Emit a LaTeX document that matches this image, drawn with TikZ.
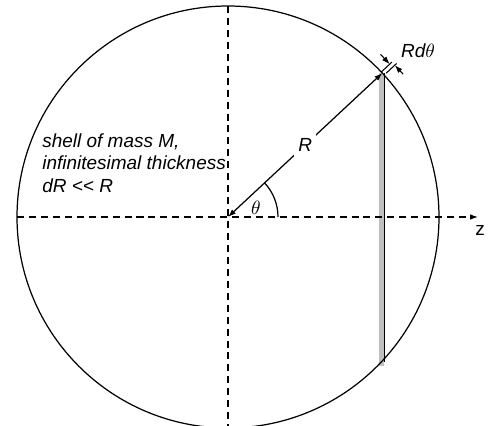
\documentclass[tikz,border=0pt]{standalone}
\usepackage{fontspec}
\setmainfont{Liberation Sans}
\usetikzlibrary{arrows.meta, calc}

\begin{document}
\begin{tikzpicture}[x=0.02cm, y=0.02cm,
    lbl/.style={font=\fontsize{10.8}{12.8}\selectfont\itshape, inner sep=0pt},
    axis/.style={line width=0.7pt, dash pattern=on 4pt off 2.8pt},
    tip/.style={-{Latex[length=4.5pt, width=3.2pt]}},
    dim/.style={line width=0.6pt}]

    \useasboundingbox (0,0) rectangle (491,426);
    \clip (0,0) rectangle (491,426);

    \coordinate (O) at (228,209);
    \coordinate (T) at ($(O)+(43:211)$);
    \coordinate (B) at ($(O)+(-43:211)$);
    \coordinate (W) at ($(O)+(-211,0)$);
    \coordinate (N) at ($(O)+(0,211)$);
    \coordinate (zend) at (478,209);
    \coordinate (S) at (228,0);

    % shell slice seen edge-on
    \fill[gray!50] ($(T)+(-3.3,0)$) rectangle ($(B)+(1.2,-5)$);
    \draw[line width=0.7pt] ($(T)+(2.2,0)$) -- ($(B)+(2.2,-1)$);

    \draw[line width=0.7pt] (O) circle[radius=211];
    \draw[axis, tip] (W) -- (zend);
    \draw[axis] (N) -- (S);
    \node[lbl, font=\fontsize{10.8}{12.8}\selectfont\upshape] (z) at (480,196) {z};

    % radius and angle
    \draw[line width=0.7pt, {Latex[length=4.5pt, width=3.2pt]}-{Latex[length=4.5pt, width=3.2pt]}]
        (O) -- node[lbl, fill=white, inner sep=2.3pt] (Rlbl) {R} (T);
    \draw[line width=0.7pt] ($(O)+(50,0)$) arc[start angle=0, end angle=43, radius=50];
    \node[lbl] (theta) at (256,218) {$\theta$};

    % width R d(theta)
    \begin{scope}[shift={(T)}, rotate=43]
        \coordinate (e1a) at (0,1.5);   \coordinate (e1b) at (14.5,1.5);
        \coordinate (e2a) at (2.8,-2.7); \coordinate (e2b) at (17,-2.7);
        \coordinate (a1) at (11.5,15);  \coordinate (h1) at (11.5,1.5);
        \coordinate (a2) at (14.5,-15); \coordinate (h2) at (14.5,-2.7);
        \draw[dim] (e1a) -- (e1b);
        \draw[dim] (e2a) -- (e2b);
        \draw[dim, tip] (a1) -- (h1);
        \draw[dim, tip] (a2) -- (h2);
    \end{scope}
    \node[lbl] (dth) at (418,375) {Rd$\theta$};

    \node[lbl, align=left, anchor=north west] (shell) at (42,293)
        {shell of mass M,\\ infinitesimal thickness\\ dR <{}< R};
\end{tikzpicture}
\end{document}
